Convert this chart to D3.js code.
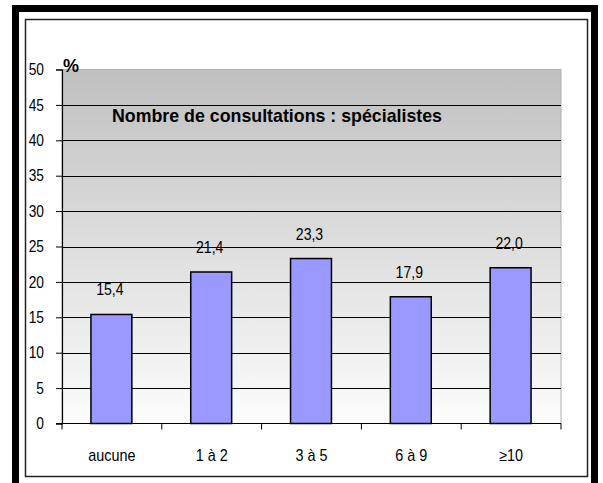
<!DOCTYPE html>
<html><head><meta charset="utf-8">
<script src="https://cdn.jsdelivr.net/npm/d3@7"></script>
<style>html,body{margin:0;padding:0;background:#fff;}svg{display:block;}</style>
</head><body>
<script>
const categories = ["aucune", "1 à 2", "3 à 5", "6 à 9", "≥10"];
const values = [15.4, 21.4, 23.3, 17.9, 22.0];
const valueLabels = ["15,4", "21,4", "23,3", "17,9", "22,0"];
const yTicks = [0, 5, 10, 15, 20, 25, 30, 35, 40, 45, 50];
const title = "Nombre de consultations : spécialistes";
const yUnit = "%";

const W = 603, H = 483;
const plot = {left: 62, right: 561, top: 69.5, bottom: 423.5};
const FONT = "'Liberation Sans Narrow','Arial Narrow','Liberation Sans',Arial,sans-serif";
const SX = 0.86;

const svg = d3.select("body").append("svg").attr("width", W).attr("height", H);

// narrow text helper: places text at (px,py) with horizontal compression
function narrowAt(sel, px, py, sx) {
  sel.attr("x", 0).attr("y", 0)
    .attr("transform", (d, i) => `translate(${typeof px === "function" ? px(d, i) : px},${typeof py === "function" ? py(d, i) : py}) scale(${sx},1)`);
}

// frames
svg.append("rect").attr("x", 15.5).attr("y", 8.5).attr("width", 579).attr("height", 520)
  .attr("fill", "none").attr("stroke", "#000").attr("stroke-width", 7);
svg.append("rect").attr("x", 25.5).attr("y", 19.5).attr("width", 562).attr("height", 457)
  .attr("fill", "#fff").attr("stroke", "#222").attr("stroke-width", 1.5);

const x = d3.scaleBand().domain(categories).range([plot.left, plot.right]).paddingInner(0).paddingOuter(0);
const y = d3.scaleLinear().domain([0, 50]).range([plot.bottom, plot.top]);

const defs = svg.append("defs");
const grad = defs.append("linearGradient").attr("id", "bg").attr("x1", 0).attr("y1", 0).attr("x2", 0).attr("y2", 1);
grad.append("stop").attr("offset", "0%").attr("stop-color", "#c0c0c0");
grad.append("stop").attr("offset", "100%").attr("stop-color", "#fcfcfc");

svg.append("rect").attr("x", plot.left).attr("y", plot.top)
  .attr("width", plot.right - plot.left).attr("height", plot.bottom - plot.top)
  .attr("fill", "url(#bg)").attr("stroke", "#b0b0b0").attr("stroke-width", 1);

// gridlines
svg.append("g").selectAll("line").data(yTicks.filter(t => t > 0 && t < 50)).join("line")
  .attr("x1", plot.left).attr("x2", plot.right)
  .attr("y1", d => Math.round(y(d)) + 0.5).attr("y2", d => Math.round(y(d)) + 0.5)
  .attr("stroke", "#000").attr("stroke-width", 1);

// title
svg.append("text").attr("x", 112).attr("y", 122).text(title)
  .attr("font-family", FONT).attr("font-size", 19).attr("font-weight", "bold").attr("fill", "#000")
  .attr("textLength", 330).attr("lengthAdjust", "spacingAndGlyphs");

// bars
const step = x.step();
svg.append("g").selectAll("rect").data(values).join("rect")
  .attr("x", (d, i) => x(categories[i]) + step * 0.29)
  .attr("width", step * 0.41)
  .attr("y", d => y(d))
  .attr("height", d => y(0) - y(d))
  .attr("fill", "#9999ff").attr("stroke", "#000").attr("stroke-width", 1.5);

// value labels
const vl = svg.append("g").selectAll("text").data(values).join("text")
  .attr("text-anchor", "middle")
  .attr("font-family", FONT).attr("font-size", 16).attr("fill", "#000")
  .text((d, i) => valueLabels[i]);
narrowAt(vl, (d, i) => x(categories[i]) + step * 0.48, d => y(d) - 19, 0.88);

// y axis
const yAxis = svg.append("g").attr("transform", `translate(${plot.left},0)`)
  .call(d3.axisLeft(y).tickValues(yTicks).tickSize(6).tickPadding(12).tickFormat(d3.format("d")));
yAxis.select(".domain").attr("stroke", "#000").attr("stroke-width", 1.2);
yAxis.selectAll(".tick line").attr("stroke", "#000");
yAxis.selectAll(".tick text").attr("font-family", FONT).attr("font-size", 16).attr("fill", "#000")
  .attr("x", -18 / SX).attr("transform", `scale(${SX},1)`);

// x axis
const xAxis = svg.append("g").attr("transform", `translate(0,${plot.bottom})`)
  .call(d3.axisBottom(x).tickSize(0).tickPadding(26));
xAxis.select(".domain").remove();
xAxis.append("line").attr("x1", plot.left - 6).attr("x2", plot.right).attr("y1", 0).attr("y2", 0)
  .attr("stroke", "#000").attr("stroke-width", 1.2);
xAxis.selectAll(".xt").data(d3.range(categories.length + 1)).join("line").attr("class", "xt")
  .attr("x1", i => plot.left + i * step).attr("x2", i => plot.left + i * step)
  .attr("y1", 0).attr("y2", 6).attr("stroke", "#000");
xAxis.selectAll(".tick text").attr("font-family", FONT).attr("font-size", 16).attr("fill", "#000")
  .attr("transform", `scale(0.9,1)`);

// unit
svg.append("text").attr("x", 63).attr("y", 72).text(yUnit)
  .attr("font-family", FONT).attr("font-size", 18).attr("font-weight", "bold").attr("fill", "#000");
</script>
</body></html>
